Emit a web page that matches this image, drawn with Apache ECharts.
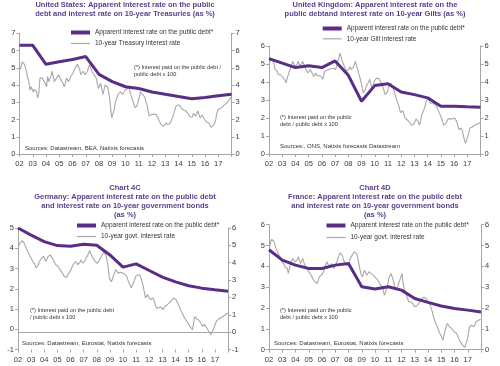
<!DOCTYPE html>
<html><head><meta charset="utf-8">
<script src="https://cdn.jsdelivr.net/npm/echarts@6/dist/echarts.min.js"></script>
<style>html,body{margin:0;padding:0;background:#fff}#c{width:500px;height:366px}</style>
</head><body><div id="c"></div>
<script>
// ---------- DATA ----------
const years = [2002,2003,2004,2005,2006,2007,2008,2009,2010,2011,2012,2013,2014,2015,2016,2017,2018];
const xTickYears = [2002,2003,2004,2005,2006,2007,2008,2009,2010,2011,2012,2013,2014,2015,2016,2017];
const monthStart = 2002; // monthly series start Jan 2002, one value per month to Dec 2017

const usApparent = [6.3,6.3,5.2,5.35,5.48,5.65,4.62,4.2,3.9,3.8,3.6,3.46,3.33,3.21,3.28,3.38,3.46];
const us10y = [
 4.9,5.1,5.35,5.4,5.2,5.0,4.7,4.4,4.2,3.7,3.9,4.0,
 3.6,3.75,3.8,3.6,3.25,3.5,4.4,4.5,4.4,4.3,4.2,4.2,
 3.9,4.5,4.2,4.1,4.5,4.8,4.5,4.2,4.3,4.4,4.5,4.6,
 4.5,4.3,4.4,4.1,3.9,4.1,4.4,4.3,4.2,4.3,4.5,4.6,
 4.7,4.8,5.0,5.1,5.2,5.3,4.9,4.6,4.7,4.8,4.7,4.6,
 4.6,4.8,5.0,5.2,5.0,4.8,4.7,4.6,4.5,4.4,4.1,3.8,
 3.7,4.1,3.8,3.45,3.7,4.0,4.0,3.9,3.7,3.3,2.7,2.1,
 2.3,2.5,2.9,3.15,3.3,3.5,3.6,3.6,3.5,3.45,3.5,3.7,
 3.7,3.8,3.9,3.8,3.5,3.3,3.1,2.9,2.7,2.65,2.8,3.05,
 3.3,3.6,3.5,3.45,3.45,3.3,3.0,2.85,2.5,2.2,2.1,2.3,
 2.4,2.3,2.2,2.3,2.35,2.1,1.9,1.8,1.7,1.65,1.6,1.7,
 1.8,1.75,1.7,1.7,1.8,1.9,2.1,2.3,2.5,2.75,2.8,2.85,
 2.9,2.8,2.65,2.6,2.55,2.55,2.5,2.4,2.35,2.25,2.15,2.1,
 2.15,2.35,2.25,2.2,2.35,2.5,2.3,2.1,2.2,2.25,2.2,2.0,
 1.9,1.85,1.9,1.8,1.7,1.55,1.5,1.65,1.7,1.9,2.3,2.55,
 2.6,2.65,2.65,2.7,2.8,2.85,2.9,2.95,3.05,3.1,3.2,3.3];

const ukApparent = [5.3,5.05,4.8,4.9,4.8,5.17,4.37,2.93,3.8,3.9,3.44,3.3,3.12,2.65,2.65,2.62,2.6];
const uk10y = [
 5.05,5.3,5.3,5.2,5.05,4.7,4.6,4.6,4.4,4.3,4.4,4.3,
 4.25,4.3,4.1,3.95,4.2,4.4,4.6,4.7,4.9,5.15,5.0,4.85,
 4.85,5.0,5.15,4.95,4.85,5.0,5.15,5.0,4.85,4.7,4.6,4.5,
 4.6,4.7,4.6,4.45,4.3,4.4,4.5,4.35,4.25,4.35,4.4,4.3,
 4.15,4.3,4.6,4.7,4.65,4.6,4.7,4.8,4.75,4.7,4.75,4.85,
 4.7,4.9,5.15,5.35,5.6,5.4,5.15,5.0,4.85,4.75,4.6,4.6,
 4.7,4.85,4.7,4.6,4.8,5.0,5.15,4.9,4.7,4.45,4.25,4.0,
 3.7,3.4,3.3,3.6,3.8,3.9,4.0,4.15,3.9,3.6,3.8,4.05,
 4.1,4.2,4.3,4.2,4.15,4.0,3.9,3.7,3.5,3.3,3.2,3.45,
 3.7,3.8,3.95,3.85,3.7,3.5,3.3,3.2,2.9,2.75,2.5,2.3,
 2.35,2.4,2.2,2.0,1.95,1.9,1.85,1.75,1.7,1.6,1.55,1.65,
 1.8,1.95,2.05,1.8,1.6,1.8,2.15,2.3,2.4,2.6,2.9,3.0,
 3.1,3.0,2.8,2.75,2.85,2.8,2.75,2.7,2.6,2.45,2.3,2.15,
 2.0,1.8,1.6,1.55,1.7,1.8,1.95,2.05,1.95,1.9,1.95,2.05,
 2.0,1.9,1.8,1.55,1.35,1.4,1.45,1.3,1.0,0.75,0.6,0.8,
 1.0,1.2,1.45,1.5,1.5,1.55,1.6,1.6,1.65,1.7,1.7,1.75];

const deApparent = [5.0,4.65,4.33,4.13,4.1,4.2,4.15,3.67,3.07,3.23,2.9,2.57,2.34,2.15,2.03,1.95,1.88];
const de10y = [
 4.95,5.1,5.2,5.25,5.27,5.15,5.0,4.85,4.7,4.6,4.45,4.36,
 4.2,4.07,4.16,3.9,3.7,3.6,3.85,4.07,4.15,4.26,4.3,4.36,
 4.3,4.07,4.2,4.36,4.4,4.45,4.35,4.25,4.16,4.0,3.88,3.85,
 3.78,3.7,3.6,3.5,3.4,3.3,3.2,3.1,3.15,3.3,3.4,3.5,
 3.6,3.75,3.9,3.97,4.07,4.0,3.9,3.88,4.0,4.16,4.1,3.97,
 4.0,4.15,4.26,4.4,4.55,4.7,4.6,4.4,4.26,4.15,4.07,4.0,
 3.97,4.05,4.15,4.26,4.4,4.5,4.6,4.64,4.4,4.1,3.7,3.1,
 3.0,2.9,3.1,3.3,3.45,3.6,3.5,3.4,3.4,3.45,3.4,3.4,
 3.4,3.35,3.3,3.2,3.0,2.83,2.7,2.54,2.6,2.83,3.0,3.2,
 3.2,3.3,3.4,3.3,3.1,2.9,2.63,2.3,1.97,2.05,2.16,2.0,
 1.9,1.87,1.95,1.97,1.8,1.58,1.4,1.3,1.4,1.49,1.45,1.35,
 1.3,1.4,1.49,1.55,1.58,1.6,1.7,1.77,1.85,1.9,1.97,1.95,
 1.87,1.75,1.6,1.49,1.3,1.2,1.05,0.91,0.8,0.7,0.63,0.5,
 0.4,0.3,0.25,0.15,0.5,0.9,0.85,0.75,0.72,0.68,0.63,0.5,
 0.34,0.4,0.44,0.35,0.25,0.15,0.05,-0.04,-0.14,-0.05,0.15,0.3,
 0.5,0.63,0.7,0.76,0.8,0.84,0.86,0.9,0.95,1.0,1.05,1.1];

const frApparent = [4.8,4.3,4.06,3.9,3.9,4.06,4.14,3.02,2.91,3.02,2.86,2.46,2.27,2.1,1.98,1.9,1.81];
const fr10y = [
 4.9,5.18,5.3,5.34,5.2,5.02,4.85,4.7,4.6,4.54,4.4,4.25,
 4.22,4.1,3.98,4.06,3.9,3.66,3.9,4.14,4.25,4.38,4.3,4.22,
 4.22,4.3,4.46,4.3,4.14,4.25,4.38,4.2,4.06,3.95,3.9,3.8,
 3.7,3.66,3.55,3.42,3.35,3.26,3.2,3.18,3.3,3.5,3.55,3.58,
 3.58,3.75,3.98,4.1,4.22,4.1,3.98,4.05,4.14,4.0,3.9,3.95,
 4.05,4.22,4.4,4.54,4.65,4.7,4.5,4.3,4.2,4.14,4.05,3.98,
 4.1,4.38,4.45,4.55,4.62,4.7,4.78,4.6,4.38,4.1,3.82,3.6,
 3.5,3.65,3.82,3.7,3.58,3.65,3.74,3.7,3.65,3.6,3.58,3.5,
 3.45,3.42,3.35,3.26,3.15,3.1,3.02,2.85,2.62,2.75,2.94,3.1,
 3.42,3.55,3.66,3.5,3.34,3.1,2.86,2.9,3.02,3.2,3.34,3.5,
 3.66,3.2,2.9,2.78,2.6,2.46,2.3,2.22,2.3,2.38,2.2,2.06,
 2.06,2.1,2.14,2.2,2.3,2.38,2.46,2.5,2.52,2.54,2.45,2.35,
 2.3,2.2,2.06,1.9,1.66,1.5,1.34,1.2,1.1,0.95,0.8,0.7,
 0.6,0.46,0.7,0.94,1.1,1.26,1.2,1.1,1.05,1.02,0.95,0.86,
 0.86,0.8,0.7,0.6,0.46,0.35,0.28,0.22,0.15,0.11,0.3,0.46,
 0.75,1.1,1.15,1.18,1.15,1.1,1.2,1.34,1.38,1.4,1.43,1.46];

const nameApparent = 'Apparent interest rate on the public debt*';
const nameUS = '10-year Treasury interest rate';
const nameUK = '10-year Gilt interest rate';
const nameDE = '10-year govt. interest rate';
const nameFR = '10-year govt. interest rate ';

const titles = [
  'United States: Apparent interest rate on the public\ndebt and interest rate on 10-year Treasuries (as %)',
  'United Kingdom: Apparent interest rate on the\npublic debtand interest rate on 10-year Gilts (as %)',
  'Chart 4C\nGermany: Apparent interest rate on the public debt\nand interest rate on 10-year government bonds\n(as %)',
  'Chart 4D\nFrance: Apparent interest rate on the public debt\nand interest rate on 10-year government bonds\n(as %)'
];
const notes = [
  '(*) Interest paid on the public debt /\npublic debt x 100',
  '(*) Interest paid on the public\ndebt / public debt x 100',
  '(*) Interest paid on the public debt\n/ public debt x 100',
  '(*) Interest paid on the public\ndebt / public debt x 100'
];
const sources = [
  'Sources: Datastream, BEA, Natixis forecasts',
  'Sources:, ONS, Natixis forecasts Datastream',
  'Sources: Datastream, Eurostat, Natixis forecasts',
  'Sources: Datastream, Eurostat, Natixis forecasts'
];

// ---------- BUILD ----------
const F = 'Liberation Sans, Arial, sans-serif';
const PURPLE = '#5a2d86';
const GRAY = '#a8a8a8';
const AX = '#a6a6a6';
const LBL = '#3a3a3a';
const TITLE = '#5b3d8f';

const yearly = v => years.map((y, i) => [y, v[i]]);
const monthly = v => v.map((val, i) => [monthStart + (i + 0.5) / 12, val]);

const grids = [
  {left: 19.5, top: 33.3, width: 212, height: 120.7},
  {left: 269, top: 46, width: 211.5, height: 108},
  {left: 18, top: 228, width: 210, height: 121.5},
  {left: 269, top: 224.7, width: 212, height: 125}
];

function xAx(g) {
  return {type: 'value', gridIndex: g, min: 2002, max: 2018, interval: 1,
    axisLine: {show: g !== 2, onZero: false, lineStyle: {color: AX, width: 1}},
    axisTick: {show: true, length: 3, lineStyle: {color: AX}},
    axisLabel: {fontSize: 7.5, color: LBL, fontFamily: F, margin: 6,
      formatter: v => (xTickYears.indexOf(v) >= 0 ? String(v).slice(2) : '')},
    splitLine: {show: false}};
}
function yAx(g, pos, min, max) {
  return {type: 'value', gridIndex: g, position: pos, min: min, max: max, interval: 1,
    axisLine: {show: true, onZero: false, lineStyle: {color: AX, width: 1}},
    axisTick: {show: true, length: 3, lineStyle: {color: AX}},
    axisLabel: {fontSize: 7.5, color: LBL, fontFamily: F, margin: 4},
    splitLine: {show: false}};
}

const xAxis = [xAx(0), xAx(1), xAx(2), xAx(3)];
const yAxis = [
  yAx(0, 'left', 0, 7), yAx(0, 'right', 0, 7),
  yAx(1, 'left', 0, 6), yAx(1, 'right', 0, 6),
  yAx(2, 'left', -1, 5), yAx(2, 'right', -1, 6),
  yAx(3, 'left', 0, 6), yAx(3, 'right', 0, 6)
];

function purple(g, data) {
  return {type: 'line', name: nameApparent, xAxisIndex: g, yAxisIndex: g * 2, data: yearly(data),
    symbol: 'none', lineStyle: {width: 3, color: PURPLE}, itemStyle: {color: PURPLE}, z: 4, silent: true};
}
function gray(g, name, data, extra) {
  return Object.assign({type: 'line', name: name, xAxisIndex: g, yAxisIndex: g * 2 + 1, data: monthly(data),
    symbol: 'none', lineStyle: {width: 1.1, color: GRAY}, itemStyle: {color: GRAY}, z: 3, silent: true}, extra || {});
}

const series = [
  purple(0, usApparent), gray(0, nameUS, us10y),
  purple(1, ukApparent), gray(1, nameUK, uk10y),
  purple(2, deApparent), gray(2, nameDE, de10y, {markLine: {silent: true, symbol: 'none', label: {show: false},
      lineStyle: {color: AX, width: 1, type: 'solid'}, data: [{yAxis: 0}]}}),
  purple(3, frApparent), gray(3, nameFR, fr10y)
];

function leg(name, left, center, h, fmt) {
  return {data: [name], left: left, top: center - 4, icon: 'rect', itemWidth: 19, itemHeight: h,
    padding: 0, selectedMode: false, formatter: fmt ? fmt : undefined,
    textStyle: {fontSize: 6.5, color: '#333', fontFamily: F}};
}
const legend = [
  leg(nameApparent, 71, 33, 4), leg(nameUS, 71, 44, 1.2),
  leg(nameApparent, 322.7, 29, 4), leg(nameUK, 322.7, 39.3, 1.2),
  leg(nameApparent, 77, 226, 4), leg(nameDE, 77, 237, 1.2),
  leg(nameApparent, 326.5, 226, 4), leg(nameFR, 326.5, 238, 1.2)
];

function txt(x, y, text, font, fill, align, va, lh) {
  return {type: 'text', x: x, y: y, silent: true,
    style: {text: text, font: font, fill: fill, align: align, verticalAlign: va,
      textAlign: align, textVerticalAlign: va, lineHeight: lh}};
}
const TF = 'bold 7.5px ' + F;
const NF = '5.6px ' + F;
const SF = '6px ' + F;
const graphic = [
  txt(125, 0.5, titles[0], TF, TITLE, 'center', 'top', 9),
  txt(375, 0.5, titles[1], TF, TITLE, 'center', 'top', 9),
  txt(125, 183.5, titles[2], TF, TITLE, 'center', 'top', 9),
  txt(375, 183.5, titles[3], TF, TITLE, 'center', 'top', 9),
  txt(134, 63.5, notes[0], NF, '#333', 'left', 'top', 7),
  txt(280, 114.5, notes[1], NF, '#333', 'left', 'top', 6.5),
  txt(30, 307.5, notes[2], NF, '#333', 'left', 'top', 6.5),
  txt(280, 307.5, notes[3], NF, '#333', 'left', 'top', 6.5),
  txt(25, 148, sources[0], SF, '#333', 'left', 'middle', 7),
  txt(280, 146.7, sources[1], SF, '#333', 'left', 'middle', 7),
  txt(22, 343.5, sources[2], SF, '#333', 'left', 'middle', 7),
  txt(274, 343, sources[3], SF, '#333', 'left', 'middle', 7)
];

const chart = echarts.init(document.getElementById('c'), null, {renderer: 'canvas'});
chart.setOption({
  animation: false,
  backgroundColor: '#fff',
  grid: grids, xAxis: xAxis, yAxis: yAxis, series: series, legend: legend, graphic: graphic
});
</script></body></html>
